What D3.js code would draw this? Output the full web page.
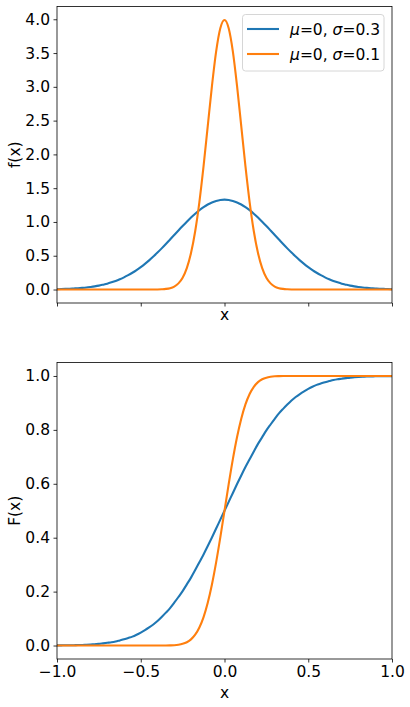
<!DOCTYPE html>
<html><head><meta charset="utf-8">
<script src="https://cdn.jsdelivr.net/npm/d3@7"></script>
<style>body{margin:0;background:#fff}svg{display:block}text{font-family:"DejaVu Sans",sans-serif;fill:#000}</style>
</head><body><svg id="c" width="410" height="707"></svg>
<script>
const xValues = [-1,-0.975,-0.95,-0.925,-0.9,-0.875,-0.85,-0.825,-0.8,-0.775,-0.75,-0.725,-0.7,-0.675,-0.65,-0.625,-0.6,-0.575,-0.55,-0.525,-0.5,-0.475,-0.45,-0.425,-0.4,-0.375,-0.35,-0.325,-0.3,-0.275,-0.25,-0.225,-0.2,-0.175,-0.15,-0.125,-0.1,-0.075,-0.05,-0.025,0,0.025,0.05,0.075,0.1,0.125,0.15,0.175,0.2,0.225,0.25,0.275,0.3,0.325,0.35,0.375,0.4,0.425,0.45,0.475,0.5,0.525,0.55,0.575,0.6,0.625,0.65,0.675,0.7,0.725,0.75,0.775,0.8,0.825,0.85,0.875,0.9,0.925,0.95,0.975,1];
const pdfSigma03 = [0.005,0.007,0.009,0.011,0.015,0.019,0.024,0.030,0.038,0.047,0.058,0.072,0.087,0.106,0.127,0.152,0.180,0.212,0.248,0.288,0.332,0.380,0.432,0.488,0.547,0.609,0.673,0.740,0.807,0.874,0.940,1.004,1.065,1.122,1.174,1.219,1.258,1.289,1.311,1.325,1.330,1.325,1.311,1.289,1.258,1.219,1.174,1.122,1.065,1.004,0.940,0.874,0.807,0.740,0.673,0.609,0.547,0.488,0.432,0.380,0.332,0.288,0.248,0.212,0.180,0.152,0.127,0.106,0.087,0.072,0.058,0.047,0.038,0.030,0.024,0.019,0.015,0.011,0.009,0.007,0.005];
const pdfSigma01 = [0,0,0,0,0,0,0,0,0,0,0,0,0,0,0,0,0,0,0,0,0,0,0,0,0.001,0.004,0.009,0.020,0.044,0.091,0.175,0.317,0.540,0.863,1.295,1.826,2.420,3.011,3.521,3.867,3.989,3.867,3.521,3.011,2.420,1.826,1.295,0.863,0.540,0.317,0.175,0.091,0.044,0.020,0.009,0.004,0.001,0,0,0,0,0,0,0,0,0,0,0,0,0,0,0,0,0,0,0,0,0,0,0,0];
const cdfSigma03 = [0.0004,0.0006,0.001,0.001,0.001,0.002,0.002,0.003,0.004,0.005,0.006,0.008,0.010,0.012,0.015,0.019,0.023,0.028,0.033,0.040,0.048,0.057,0.067,0.078,0.091,0.106,0.122,0.139,0.159,0.180,0.202,0.227,0.252,0.280,0.309,0.338,0.369,0.401,0.434,0.467,0.500,0.533,0.566,0.599,0.631,0.662,0.691,0.720,0.748,0.773,0.798,0.820,0.841,0.861,0.878,0.894,0.909,0.922,0.933,0.943,0.952,0.960,0.967,0.972,0.977,0.981,0.985,0.988,0.990,0.992,0.994,0.995,0.996,0.997,0.998,0.998,0.999,0.999,0.999,0.9994,0.9996];
const cdfSigma01 = [0,0,0,0,0,0,0,0,0,0,0,0,0,0,0,0,0,0,0,0,0,0,0,0,0,0.0001,0.0002,0.0006,0.0013,0.003,0.0062,0.0122,0.0228,0.0401,0.0668,0.1056,0.1587,0.2266,0.3085,0.4013,0.5,0.5987,0.6915,0.7734,0.8413,0.8944,0.9332,0.9599,0.9772,0.9878,0.9938,0.997,0.9987,0.9994,0.9998,0.9999,1,1,1,1,1,1,1,1,1,1,1,1,1,1,1,1,1,1,1,1,1,1,1,1,1];
const seriesLabels = ["σ=0.3","σ=0.1"];
const xTicks = [-1,-0.5,0,0.5,1];
const pdfTicks = [0,0.5,1,1.5,2,2.5,3,3.5,4];
const cdfTicks = [0,0.2,0.4,0.6,0.8,1];
const colors = ["#1f77b4","#ff7f0e"];

const FS = 15.5;
const svg = d3.select("#c");
const fmt = v => d3.format(".1f")(v).replace("-", "\u2212");
const x = d3.scaleLinear().domain([-1,1]).range([57,392]);

function panel(top, bottom, ydomain, yticks, series, ylabel, showXLabels, xlabelY){
  const y = d3.scaleLinear().domain(ydomain).range([bottom, top]);
  const g = svg.append("g");
  const line = d3.line().x((d,i)=>x(xValues[i])).y(d=>y(d)).curve(d3.curveMonotoneX);
  series.forEach((s,k)=>{
    g.append("path").attr("d", line(s)).attr("fill","none").attr("stroke",colors[k]).attr("stroke-width",2.1);
  });
  const ya = g.append("g").attr("transform","translate(57,0)").call(d3.axisLeft(y).tickValues(yticks).tickFormat(fmt).tickSizeInner(3.5).tickSizeOuter(0).tickPadding(3.5));
  const xa = g.append("g").attr("transform",`translate(0,${bottom})`).call(d3.axisBottom(x).tickValues(xTicks).tickFormat(showXLabels?fmt:"").tickSizeInner(3.5).tickSizeOuter(0).tickPadding(3.5));
  [ya,xa].forEach(a=>{a.select(".domain").remove(); a.selectAll("line").attr("stroke","#000").attr("stroke-width",0.8); a.selectAll("text").attr("font-size",FS).attr("font-family","DejaVu Sans").attr("fill","#000");});
  g.append("rect").attr("x",57).attr("y",top).attr("width",335).attr("height",bottom-top).attr("fill","none").attr("stroke","#000").attr("stroke-width",0.8);
  g.append("text").attr("transform",`translate(20,${(top+bottom)/2}) rotate(-90)`).attr("text-anchor","middle").attr("font-size",FS).text(ylabel);
  g.append("text").attr("x",(57+392)/2).attr("y",xlabelY).attr("text-anchor","middle").attr("font-size",FS).text("x");
  return y;
}

panel(6.5, 303, [-0.1995,4.189], pdfTicks, [pdfSigma03,pdfSigma01], "f(x)", false, 320);
panel(362.5, 659, [-0.05,1.05], cdfTicks, [cdfSigma03,cdfSigma01], "F(x)", true, 698);

// legend
const lg = svg.append("g");
lg.append("rect").attr("x",242.5).attr("y",14.5).attr("width",141.5).attr("height",56.5).attr("rx",3).attr("fill","#fff").attr("fill-opacity",0.8).attr("stroke","#ccc").attr("stroke-width",0.8);
seriesLabels.forEach((lab,i)=>{
  const yy = 29 + i*25;
  lg.append("line").attr("x1",247).attr("x2",279).attr("y1",yy).attr("y2",yy).attr("stroke",colors[i]).attr("stroke-width",2.1);
  const t = lg.append("text").attr("x",290).attr("y",yy+5.5).attr("font-size",FS);
  t.append("tspan").attr("font-style","italic").text("μ");
  t.append("tspan").text("=0, ");
  t.append("tspan").attr("font-style","italic").text("σ");
  t.append("tspan").text("=" + lab.split("=")[1]);
});
</script></body></html>
